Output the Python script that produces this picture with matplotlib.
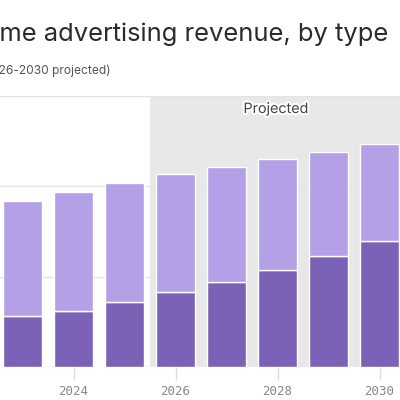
import numpy as np
import matplotlib
matplotlib.use("Agg")
import matplotlib.pyplot as plt
import matplotlib.patheffects as pe

# donnees (milliards $, estimation)
years = [2023, 2024, 2025, 2026, 2027, 2028, 2029, 2030]
total = [9.19, 9.71, 10.2, 10.69, 11.09, 11.53, 11.9, 12.33]
digital = [2.82, 3.10, 3.60, 4.13, 4.71, 5.39, 6.15, 6.98]
traditional = [t - d for t, d in zip(total, digital)]
tick_years = [2024, 2026, 2028, 2030]

dark = "#7c62b6"
light = "#b4a0e6"

fig = plt.figure(figsize=(4, 4), dpi=100)
ax = fig.add_axes([0.0, 0.0825, 1.0, 0.6775])

x0 = 2023 - 22.5 / 51
x1 = x0 + 400 / 51
ax.set_xlim(x0, x1)
ax.set_ylim(0, 15)

# zone projetee
ax.axvspan(2025.5, x1, ymin=0, ymax=1, color="#e8e8e8", zorder=0.5, lw=0)

ax.bar(years, digital, width=0.765, color=dark, edgecolor="white", linewidth=1, zorder=2)
ax.bar(years, traditional, bottom=digital, width=0.765, color=light,
       edgecolor="white", linewidth=1, zorder=2)

ax.set_yticks([0, 5, 10, 15])
ax.yaxis.grid(True, color="#e4e4e4", lw=1, zorder=0)
ax.set_axisbelow(True)
ax.tick_params(axis="y", left=False, labelleft=False)
for s in ax.spines.values():
    s.set_visible(False)

ax.set_xticks(tick_years)
ax.set_xticklabels([str(y) for y in tick_years], family="DejaVu Sans Mono",
                   fontsize=9, color="#888888")
ax.tick_params(axis="x", length=9, width=1, color="#dddddd", pad=4)

ax.text(2027.97, 0.952, "Projected", transform=ax.get_xaxis_transform(),
        ha="center", va="center", fontsize=10.3, color="#444444",
        family="Inter",
        path_effects=[pe.withStroke(linewidth=3, foreground="white")], zorder=5)

fig.text(388 / 400, 1 - 34 / 400, "Out-of-home advertising revenue, by type",
         ha="right", va="center", fontsize=18.4, color="#2b2b2b", family="Inter")
fig.text(111 / 400, 1 - 71 / 400, "U.S., 2019–2030 (2026-2030 projected)",
         ha="right", va="center", fontsize=8.6, color="#555555", family="Inter")

fig.savefig("out.png", dpi=100, facecolor="white")
